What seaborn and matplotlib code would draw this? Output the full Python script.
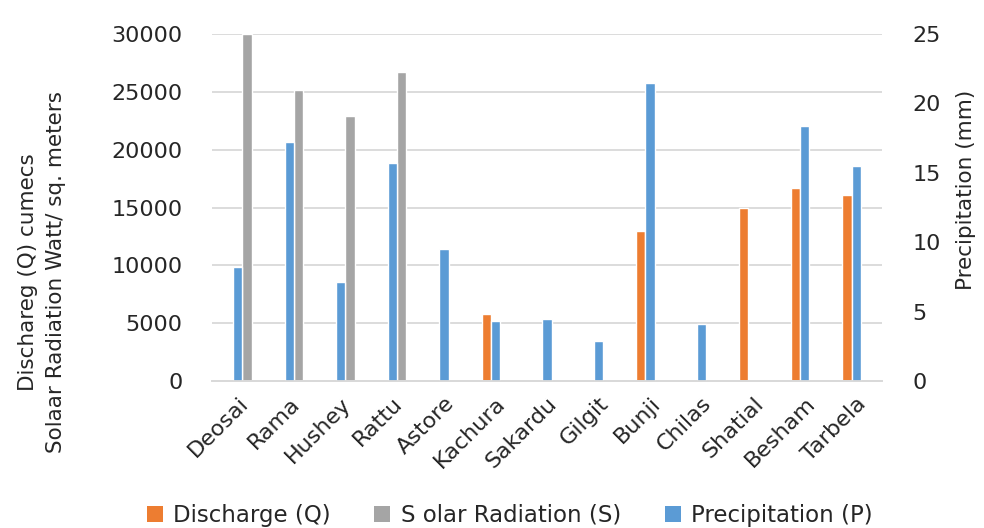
import matplotlib
matplotlib.use("Agg")
import matplotlib.pyplot as plt
from matplotlib.patches import Patch
import seaborn as sns
import pandas as pd

# Stations along the Indus basin
stations = ["Deosai", "Rama", "Hushey", "Rattu", "Astore", "Kachura", "Sakardu",
            "Gilgit", "Bunji", "Chilas", "Shatial", "Besham", "Tarbela"]

# Discharge (cumecs), left axis
discharge_stations = ["Kachura", "Bunji", "Shatial", "Besham", "Tarbela"]
discharge = [5750, 13000, 14950, 16700, 16050]

# Solar radiation (Watt / sq. meters), left axis
solar_stations = ["Deosai", "Rama", "Hushey", "Rattu"]
solar = [30000, 25200, 22900, 26700]

# Precipitation (mm), right axis
precipitation = [8.2, 17.2, 7.1, 15.7, 9.5, 4.3, 4.5, 2.9, 21.5, 4.1, 0, 18.4, 15.5]

left_ticks = [0, 5000, 10000, 15000, 20000, 25000, 30000]
right_ticks = [0, 5, 10, 15, 20, 25]

Q = "Discharge (Q)"
S = "S olar Radiation (S)"
P = "Precipitation (P)"
colors = {Q: "#ED7D31", S: "#A5A5A5", P: "#5B9BD5"}
# side-by-side slot order within each station group
slot_order = [Q, P, S]

left_df = pd.concat([
    pd.DataFrame({"station": discharge_stations, "series": Q, "value": discharge}),
    pd.DataFrame({"station": solar_stations, "series": S, "value": solar}),
], ignore_index=True)
right_df = pd.DataFrame({"station": stations, "series": P, "value": precipitation})
right_df = right_df[right_df["value"] > 0]

sns.set_theme(style="white")
plt.rcParams["font.family"] = ["DejaVu Sans"]

fig = plt.figure(figsize=(9.84, 5.28), dpi=100)
ax = fig.add_axes([0.2154, 0.2784, 0.6809, 0.6572])
ax2 = ax.twinx()

grid_c = "#D9D9D9"
text_c = "#262626"
ax.set_axisbelow(True)

sns.barplot(data=left_df, x="station", y="value", hue="series", order=stations,
            hue_order=slot_order, palette=colors, width=0.54, dodge=True,
            errorbar=None, saturation=1, legend=False, ax=ax, zorder=2)
sns.barplot(data=right_df, x="station", y="value", hue="series", order=stations,
            hue_order=slot_order, palette=colors, width=0.54, dodge=True,
            errorbar=None, saturation=1, legend=False, ax=ax2, zorder=2)

ax.set_xlim(-0.5, len(stations) - 0.5)
ax.set_ylim(0, 30000)
ax2.set_ylim(0, 25)
ax.set_yticks(left_ticks)
ax.set_yticklabels([str(t) for t in left_ticks])
ax2.set_yticks(right_ticks)
ax2.set_yticklabels([str(t) for t in right_ticks])

for a in (ax, ax2):
    for side in ("top", "left", "right"):
        a.spines[side].set_visible(False)
    a.spines["bottom"].set_color(grid_c)
    a.spines["bottom"].set_linewidth(1.3)
    a.set_xlabel("")
    a.set_ylabel("")
    a.tick_params(axis="both", length=0, labelsize=16, colors=text_c)
ax.yaxis.grid(True, color=grid_c, linewidth=1.3)
ax2.yaxis.grid(False)

ax.tick_params(axis="y", pad=21)
ax2.tick_params(axis="y", pad=22)
ax.set_xticks(range(len(stations)))
ax.set_xticklabels(stations, rotation=45, ha="right", rotation_mode="anchor",
                   fontsize=16, color=text_c)
ax.tick_params(axis="x", pad=9)
ax2.tick_params(axis="x", labelbottom=False)

fig.text(0.043, 0.485, "Dischareg (Q) cumecs\nSolaar Radiation Watt/ sq. meters",
         rotation=90, ha="center", va="center", fontsize=15.5, color=text_c,
         linespacing=1.5)
fig.text(0.982, 0.64, "Precipitation (mm)", rotation=90, ha="center", va="center",
         fontsize=15.5, color=text_c)

handles = [Patch(facecolor=colors[k], edgecolor="none") for k in (Q, S, P)]
fig.legend(handles, [Q, S, P], loc="center", bbox_to_anchor=(0.518, 0.024),
           ncol=3, frameon=False, fontsize=16.5, handlelength=0.7, handleheight=0.7,
           handletextpad=0.45, columnspacing=1.9, labelcolor=text_c)

fig.savefig("out.png", dpi=100)
